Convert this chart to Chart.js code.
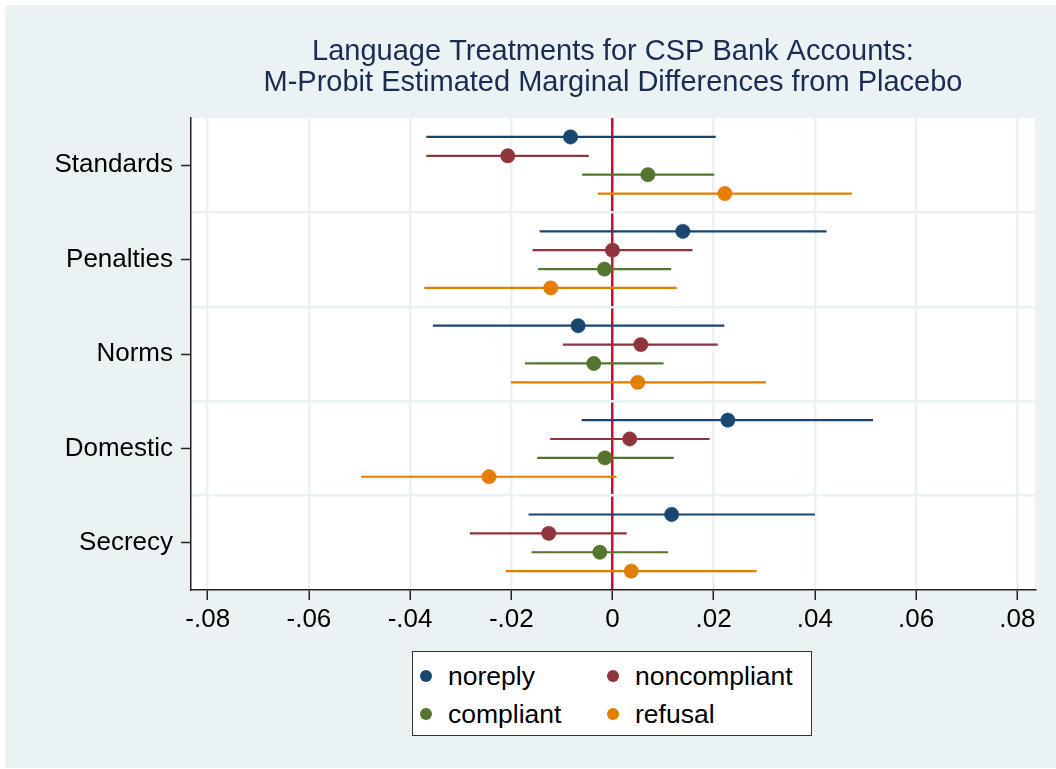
<!DOCTYPE html>
<html>
<head>
<meta charset="utf-8">
<title>Language Treatments for CSP Bank Accounts</title>
<script src="https://cdn.jsdelivr.net/npm/chart.js@4.4.1/dist/chart.umd.min.js"></script>
<style>
  html, body { margin: 0; padding: 0; background: #fff; }
  body { width: 1056px; height: 769px; position: relative; overflow: hidden; font-family: "Liberation Sans", Arial, sans-serif; }
  #wrap { position: absolute; left: 5px; top: 5px; width: 1051px; height: 763px; background: #eaf2f3; }
  #legend { position: absolute; left: 412px; top: 651px; width: 398px; height: 83px; background: #fff; border: 1.5px solid #333; }
  .item { position: absolute; height: 30px; display: flex; align-items: center; font-size: 26.5px; color: #000; white-space: nowrap; }
  .item span.dot { display: inline-block; width: 12px; height: 12px; border-radius: 50%; margin-right: 16px; }
</style>
</head>
<body>
<div id="wrap"><canvas id="chart"></canvas></div>
<div id="legend"></div>
<script>
// categories (top to bottom) and series
const categories = ["Standards", "Penalties", "Norms", "Domestic", "Secrecy"];
const seriesNames = ["noreply", "noncompliant", "compliant", "refusal"];
const seriesColors = ["#1a476f", "#90353b", "#55752f", "#e37e00"];

// point estimates
const noreplyEst = [-0.0083, 0.0139, -0.0068, 0.0228, 0.0117];
const noncompliantEst = [-0.0207, 0.0000, 0.0056, 0.0034, -0.0126];
const compliantEst = [0.0070, -0.0016, -0.0037, -0.0015, -0.0025];
const refusalEst = [0.0222, -0.0122, 0.0050, -0.0244, 0.0037];

// confidence interval ends
const noreplyLo = [-0.0368, -0.0144, -0.0355, -0.0061, -0.0166];
const noreplyHi = [0.0204, 0.0423, 0.0221, 0.0515, 0.0400];
const noncompliantLo = [-0.0368, -0.0158, -0.0098, -0.0123, -0.0282];
const noncompliantHi = [-0.0047, 0.0158, 0.0208, 0.0192, 0.0028];
const compliantLo = [-0.0060, -0.0147, -0.0173, -0.0149, -0.0160];
const compliantHi = [0.0201, 0.0116, 0.0101, 0.0121, 0.0110];
const refusalLo = [-0.0029, -0.0372, -0.0201, -0.0497, -0.0211];
const refusalHi = [0.0473, 0.0127, 0.0303, 0.0008, 0.0285];

const xTicks = [-0.08, -0.06, -0.04, -0.02, 0, 0.02, 0.04, 0.06, 0.08];

const estimates = [noreplyEst, noncompliantEst, compliantEst, refusalEst];
const lows = [noreplyLo, noncompliantLo, compliantLo, refusalLo];
const highs = [noreplyHi, noncompliantHi, compliantHi, refusalHi];

// each category gets a band of height 1, series are stacked inside it
const rowPos = (cat, s) => cat + 0.5 + (s - 1.5) * 0.2;

Chart.defaults.font.family = '"Liberation Sans", Arial, sans-serif';
Chart.defaults.color = "#000";

const datasets = [];
seriesNames.forEach((name, s) => {
  // CI bars, one segment per category, broken with a null point
  datasets.push({
    label: name + " CI",
    data: categories.flatMap((c, i) => [
      { x: lows[s][i], y: rowPos(i, s) },
      { x: highs[s][i], y: rowPos(i, s) },
      { x: null, y: null },
    ]),
    showLine: true,
    spanGaps: false,
    borderColor: seriesColors[s],
    borderWidth: 2.2,
    pointRadius: 0,
    order: 2,
  });
  datasets.push({
    label: name,
    data: categories.map((c, i) => ({ x: estimates[s][i], y: rowPos(i, s) })),
    backgroundColor: seriesColors[s],
    borderColor: seriesColors[s],
    borderWidth: 0.5,
    pointRadius: 7.2,
    order: 1,
  });
});

// white plot region
const plotBg = {
  id: "plotBg",
  beforeDraw(chart) {
    const { ctx, chartArea } = chart;
    ctx.save();
    ctx.fillStyle = "#fff";
    ctx.fillRect(chartArea.left, chartArea.top, chartArea.right - chartArea.left, chartArea.bottom - chartArea.top);
    ctx.restore();
  },
};

new Chart(document.getElementById("chart"), {
  type: "scatter",
  data: { datasets },
  plugins: [plotBg],
  options: {
    responsive: true,
    maintainAspectRatio: false,
    animation: false,
    layout: { padding: { left: 0, right: 21, top: 0, bottom: 118 } },
    plugins: {
      legend: { display: false },
      tooltip: { enabled: false },
      title: {
        display: true,
        fullSize: false,
        text: [
          "Language Treatments for CSP Bank Accounts:",
          "M-Probit Estimated Marginal Differences from Placebo",
        ],
        color: "#1c2b52",
        font: { size: 29, weight: "normal", lineHeight: 1.07 },
        padding: { top: 31, bottom: 20 },
      },
    },
    scales: {
      x: {
        type: "linear",
        min: -0.0833,
        max: 0.0835,
        afterBuildTicks: (s) => { s.ticks = xTicks.map((v) => ({ value: v })); },
        afterFit: (s) => { s.height = 60; },
        ticks: {
          font: { size: 26 },
          padding: 4,
          maxRotation: 0,
          autoSkip: false,
          callback: (v) => (v === 0 ? "0" : (v < 0 ? "-" : "") + Math.abs(v).toFixed(2).slice(1)),
        },
        grid: {
          color: (c) => (c.tick && c.tick.value === 0 ? "#c8102e" : "#eaf2f3"),
          lineWidth: 2.5,
          tickColor: "#222",
          tickWidth: 1.5,
          tickLength: 10,
        },
        border: { display: true, color: "#222", width: 1.5 },
      },
      y: {
        type: "linear",
        position: "left",
        min: 0,
        max: 5,
        reverse: true,
        afterBuildTicks: (s) => { s.ticks = categories.map((c, i) => ({ value: i + 0.5 })); },
        afterFit: (s) => { s.width = 186; },
        ticks: {
          font: { size: 26 },
          padding: 8,
          autoSkip: false,
          callback: (v, i) => categories[i],
        },
        grid: {
          drawOnChartArea: false,
          tickColor: "#222",
          tickWidth: 1.5,
          tickLength: 10,
        },
        border: { display: true, color: "#222", width: 1.5 },
      },
      // band separators between categories
      yBands: {
        type: "linear",
        position: "right",
        min: 0,
        max: 5,
        reverse: true,
        afterBuildTicks: (s) => { s.ticks = [1, 2, 3, 4].map((v) => ({ value: v })); },
        afterFit: (s) => { s.width = 0; },
        ticks: { display: false },
        grid: { color: "#eaf2f3", lineWidth: 2.5, drawTicks: false },
        border: { display: false },
      },
    },
  },
});

// legend box, two columns
const legendEl = document.getElementById("legend");
seriesNames.forEach((name, s) => {
  const item = document.createElement("div");
  item.className = "item";
  item.style.left = (7 + (s % 2) * 187) + "px";
  item.style.top = (9 + Math.floor(s / 2) * 38) + "px";
  item.innerHTML = '<span class="dot" style="background:' + seriesColors[s] + '"></span>' + name;
  legendEl.appendChild(item);
});
</script>
</body>
</html>
